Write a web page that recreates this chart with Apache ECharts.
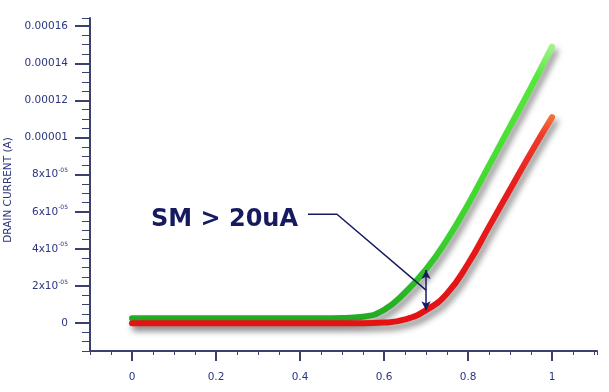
<!DOCTYPE html>
<html>
<head>
<meta charset="utf-8">
<script src="https://cdn.jsdelivr.net/npm/echarts@6/dist/echarts.min.js"></script>
<style>
html,body{margin:0;padding:0;background:#fff;}
#chart{width:609px;height:392px;}
</style>
</head>
<body>
<div id="chart"></div>
<script>
// ---- data ----
const gateVoltage = [0, 0.05, 0.1, 0.15, 0.2, 0.25, 0.3, 0.35, 0.4, 0.45, 0.5, 0.55, 0.6, 0.65, 0.7, 0.75, 0.8, 0.85, 0.9, 0.95, 1.0];
const greenCurrent = [2.7e-6, 2.7e-6, 2.7e-6, 2.7e-6, 2.7e-6, 2.7e-6, 2.7e-6, 2.7e-6, 2.7e-6, 2.7e-6, 2.8e-6, 3.5e-6, 7.2e-6, 16.5e-6, 29e-6, 45e-6, 64e-6, 85e-6, 106e-6, 127e-6, 149e-6];
const redCurrent = [0, 0, 0, 0, 0, 0, 0, 0, 0, 0, 0, 0, 0.3e-6, 2e-6, 7e-6, 16e-6, 32e-6, 52e-6, 72e-6, 92e-6, 111e-6];
const xTickValues = [0, 0.2, 0.4, 0.6, 0.8, 1];
const xTickLabels = ['0', '0.2', '0.4', '0.6', '0.8', '1'];
const yTickValues = [0, 2e-5, 4e-5, 6e-5, 8e-5, 1e-4, 1.2e-4, 1.4e-4, 1.6e-4];
const yTickLabels = ['0', '2x10^-05', '4x10^-05', '6x10^-05', '8x10^-05', '0.00001', '0.00012', '0.00014', '0.00016'];
const yAxisTitle = 'DRAIN CURRENT (A)';
const annotationText = 'SM > 20uA';
const marginArrowX = 0.7;
const marginArrowTop = 2.86e-5;
const marginArrowBottom = 0.7e-5;
const leaderX = [0.419, 0.488, 0.7];
const leaderY = [5.87e-5, 5.87e-5, 1.78e-5];

// ---- chart ----
const navy = '#2b3580';
const axisCol = '#3a416e';
const annCol = '#161b60';
const fontFam = '"DejaVu Sans", sans-serif';

function lookup(values, labels, v) {
  let best = 0, bd = Infinity;
  values.forEach((t, i) => { const d = Math.abs(t - v); if (d < bd) { bd = d; best = i; } });
  return labels[best];
}
function yLabelRich(v) {
  const s = lookup(yTickValues, yTickLabels, v);
  const parts = s.split('^');
  return parts.length > 1 ? '{b|' + parts[0] + '}{s|' + parts[1] + '}' : '{b|' + s + '}';
}

const chart = echarts.init(document.getElementById('chart'), null, {renderer: 'canvas'});

const greenData = gateVoltage.map((x, i) => [x, greenCurrent[i]]);
const redData = gateVoltage.map((x, i) => [x, redCurrent[i]]);
const leaderData = leaderX.map((x, i) => [x, leaderY[i]]);

const xMin = -0.1, xMax = 1.107, yMin = -1.5e-5, yMax = 1.644e-4;

const option = {
  animation: false,
  backgroundColor: '#ffffff',
  grid: {left: 90, right: 12, top: 18, bottom: 41, containLabel: false},
  xAxis: [
    {
      type: 'value', position: 'bottom', min: xMin, max: xMax, interval: 0.05,
      axisLine: {show: true, onZero: false, lineStyle: {color: axisCol, width: 2}},
      axisTick: {show: true, length: 4, lineStyle: {color: axisCol, width: 1}},
      axisLabel: {show: false},
      splitLine: {show: false}
    },
    {
      type: 'value', position: 'bottom', min: xMin, max: xMax,
      axisLine: {show: false, onZero: false},
      axisTick: {show: true, length: 10, customValues: xTickValues, lineStyle: {color: axisCol, width: 2}},
      axisLabel: {
        show: true, customValues: xTickValues, margin: 21,
        color: navy, fontSize: 10.5, fontFamily: fontFam,
        formatter: v => lookup(xTickValues, xTickLabels, v)
      },
      splitLine: {show: false}
    }
  ],
  yAxis: [
    {
      type: 'value', position: 'left', min: yMin, max: yMax, interval: 5e-6,
      axisLine: {show: true, onZero: false, lineStyle: {color: axisCol, width: 2}},
      axisTick: {show: true, length: 8, lineStyle: {color: axisCol, width: 1}},
      axisLabel: {show: false},
      splitLine: {show: false}
    },
    {
      type: 'value', position: 'left', min: yMin, max: yMax,
      axisLine: {show: false, onZero: false},
      axisTick: {show: true, length: 15, customValues: yTickValues, lineStyle: {color: axisCol, width: 2}},
      axisLabel: {
        show: true, customValues: yTickValues, margin: 22,
        formatter: yLabelRich,
        rich: {
          b: {color: navy, fontSize: 10.5, fontFamily: fontFam, lineHeight: 14},
          s: {color: navy, fontSize: 6, fontFamily: fontFam, verticalAlign: 'top', lineHeight: 7}
        }
      },
      splitLine: {show: false}
    }
  ],
  graphic: [
    {
      type: 'text', x: 8, y: 190, rotation: Math.PI / 2,
      style: {text: yAxisTitle, fill: navy, font: '10.5px ' + fontFam, textAlign: 'center', textVerticalAlign: 'middle'}
    }
  ],
  series: [
    {
      name: 'green', type: 'line', xAxisIndex: 0, yAxisIndex: 0,
      data: greenData, smooth: 0.5, symbol: 'none', z: 3,
      lineStyle: {
        width: 6, cap: 'round',
        color: new echarts.graphic.LinearGradient(0, 0, 0, 1, [
          {offset: 0, color: '#a6f48c'},
          {offset: 0.12, color: '#55e83a'},
          {offset: 0.7, color: '#3ad22c'},
          {offset: 1, color: '#23a823'}
        ]),
        shadowColor: 'rgba(0,0,0,0.45)', shadowBlur: 6, shadowOffsetX: 3, shadowOffsetY: 5
      }
    },
    {
      name: 'red', type: 'line', xAxisIndex: 0, yAxisIndex: 0,
      data: redData, smooth: 0.5, symbol: 'none', z: 4,
      lineStyle: {
        width: 6, cap: 'round',
        color: new echarts.graphic.LinearGradient(0, 0, 0, 1, [
          {offset: 0, color: '#f47838'},
          {offset: 0.1, color: '#ee3a2a'},
          {offset: 0.35, color: '#e81c1c'},
          {offset: 1, color: '#e41212'}
        ]),
        shadowColor: 'rgba(0,0,0,0.45)', shadowBlur: 6, shadowOffsetX: 3, shadowOffsetY: 5
      }
    },
    {
      name: 'annotation', type: 'line', xAxisIndex: 0, yAxisIndex: 0,
      data: leaderData, symbol: 'none', z: 6, silent: true,
      lineStyle: {color: annCol, width: 1.5},
      label: {show: false},
      markPoint: {
        silent: true, symbol: 'circle', symbolSize: 0,
        data: [{coord: [leaderX[0], leaderY[0]]}],
        label: {
          show: true, position: 'left', distance: 10, offset: [0, 6],
          formatter: annotationText, color: annCol, fontSize: 24, fontWeight: 'bold', fontFamily: fontFam
        }
      },
      markLine: {
        silent: true, symbol: ['arrow', 'arrow'], symbolSize: [7, 9],
        lineStyle: {color: annCol, width: 1.5, type: 'solid'},
        label: {show: false},
        data: [[{coord: [marginArrowX, marginArrowTop]}, {coord: [marginArrowX, marginArrowBottom]}]]
      }
    }
  ]
};
chart.setOption(option);
</script>
</body>
</html>
